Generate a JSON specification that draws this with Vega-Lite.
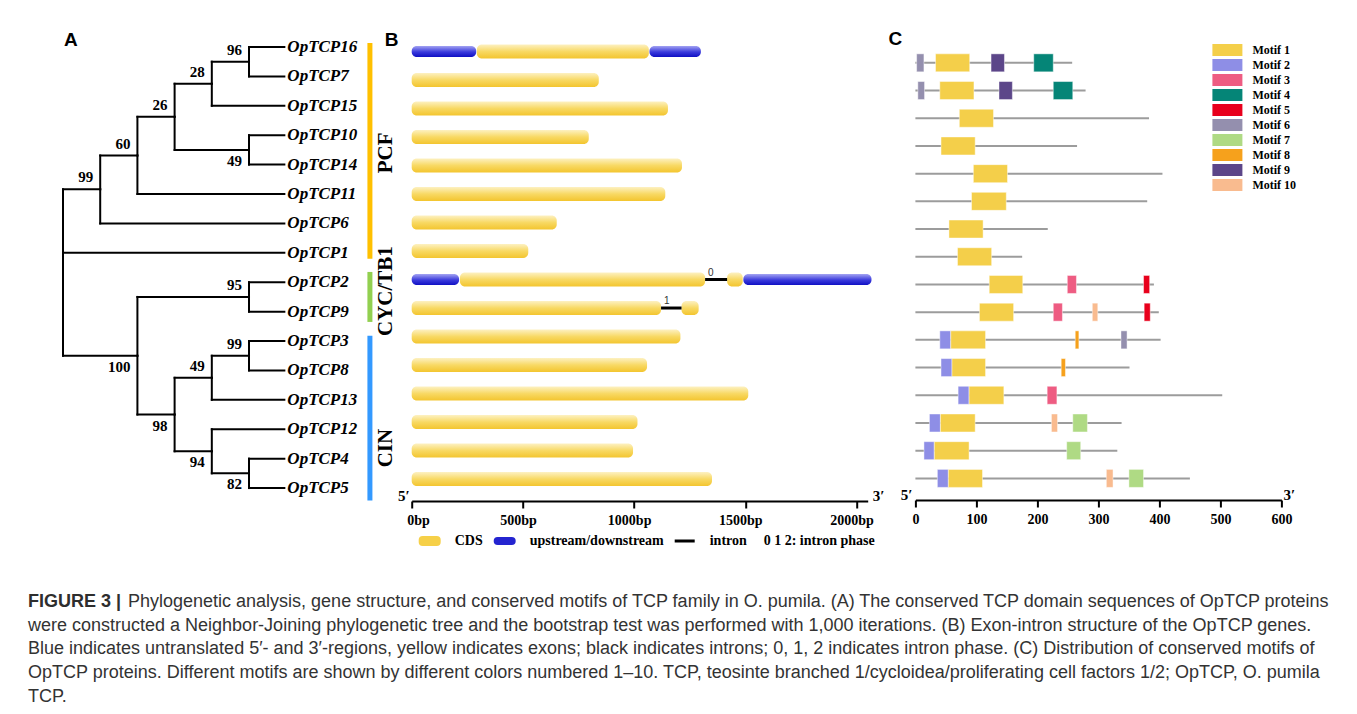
{
  "$schema": "https://vega.github.io/schema/vega-lite/v6.json",
  "background": "white",
  "padding": {"left": 28, "top": 30, "right": 10, "bottom": 4},
  "autosize": {"type": "pad"},
  "bounds": "flush",
  "columns": 3,
  "align": "none",
  "spacing": {"row": 80, "column": 47.7},
  "resolve": {"scale": {"color": "independent", "shape": "independent"}, "legend": {"color": "independent", "shape": "independent"}},
  "config": {
    "aria": false,
    "view": {"stroke": null},
    "font": "Liberation Serif",
    "title": {"font": "Liberation Sans", "fontWeight": "bold", "fontSize": 19, "color": "black", "anchor": "start", "frame": "group", "baseline": "alphabetic"},
    "axis": {"domainColor": "black", "domainWidth": 2, "tickColor": "black", "tickWidth": 2, "tickSize": 7, "labelFont": "Liberation Serif", "labelFontWeight": "bold", "labelFontSize": 14, "labelColor": "black", "labelPadding": 5, "grid": false, "title": null}
  },
  "datasets": {
    "edges": [
      {"px": 0, "py": 8.67, "cx": 1, "cy": 5.84},
      {"px": 0, "py": 8.67, "cx": 5.95, "cy": 8},
      {"px": 0, "py": 8.67, "cx": 2, "cy": 11.5},
      {"px": 1, "py": 5.84, "cx": 2, "cy": 4.69},
      {"px": 1, "py": 5.84, "cx": 5.95, "cy": 7},
      {"px": 2, "py": 4.69, "cx": 3, "cy": 3.375},
      {"px": 2, "py": 4.69, "cx": 5.95, "cy": 6},
      {"px": 3, "py": 3.375, "cx": 4, "cy": 2.25},
      {"px": 3, "py": 3.375, "cx": 5, "cy": 4.5},
      {"px": 4, "py": 2.25, "cx": 5, "cy": 1.5},
      {"px": 4, "py": 2.25, "cx": 5.95, "cy": 3},
      {"px": 5, "py": 1.5, "cx": 5.95, "cy": 1},
      {"px": 5, "py": 1.5, "cx": 5.95, "cy": 2},
      {"px": 5, "py": 4.5, "cx": 5.95, "cy": 4},
      {"px": 5, "py": 4.5, "cx": 5.95, "cy": 5},
      {"px": 2, "py": 11.5, "cx": 5, "cy": 9.5},
      {"px": 2, "py": 11.5, "cx": 3, "cy": 13.5},
      {"px": 5, "py": 9.5, "cx": 5.95, "cy": 9},
      {"px": 5, "py": 9.5, "cx": 5.95, "cy": 10},
      {"px": 3, "py": 13.5, "cx": 4, "cy": 12.25},
      {"px": 3, "py": 13.5, "cx": 4, "cy": 14.75},
      {"px": 4, "py": 12.25, "cx": 5, "cy": 11.5},
      {"px": 4, "py": 12.25, "cx": 5.95, "cy": 13},
      {"px": 5, "py": 11.5, "cx": 5.95, "cy": 11},
      {"px": 5, "py": 11.5, "cx": 5.95, "cy": 12},
      {"px": 4, "py": 14.75, "cx": 5.95, "cy": 14},
      {"px": 4, "py": 14.75, "cx": 5, "cy": 15.5},
      {"px": 5, "py": 15.5, "cx": 5.95, "cy": 15},
      {"px": 5, "py": 15.5, "cx": 5.95, "cy": 16}
    ],
    "leaves": [
      {"gene": "OpTCP16", "row": 1, "depth": 5.95}, {"gene": "OpTCP7", "row": 2, "depth": 5.95}, {"gene": "OpTCP15", "row": 3, "depth": 5.95},
      {"gene": "OpTCP10", "row": 4, "depth": 5.95}, {"gene": "OpTCP14", "row": 5, "depth": 5.95}, {"gene": "OpTCP11", "row": 6, "depth": 5.95},
      {"gene": "OpTCP6", "row": 7, "depth": 5.95}, {"gene": "OpTCP1", "row": 8, "depth": 5.95}, {"gene": "OpTCP2", "row": 9, "depth": 5.95},
      {"gene": "OpTCP9", "row": 10, "depth": 5.95}, {"gene": "OpTCP3", "row": 11, "depth": 5.95}, {"gene": "OpTCP8", "row": 12, "depth": 5.95},
      {"gene": "OpTCP13", "row": 13, "depth": 5.95}, {"gene": "OpTCP12", "row": 14, "depth": 5.95}, {"gene": "OpTCP4", "row": 15, "depth": 5.95},
      {"gene": "OpTCP5", "row": 16, "depth": 5.95}
    ],
    "support": [
      {"label": "96", "x": 5, "y": 1.5, "side": "above"},
      {"label": "28", "x": 4, "y": 2.25, "side": "above"},
      {"label": "26", "x": 3, "y": 3.375, "side": "above"},
      {"label": "60", "x": 2, "y": 4.69, "side": "above"},
      {"label": "99", "x": 1, "y": 5.84, "side": "above"},
      {"label": "49", "x": 5, "y": 4.5, "side": "below"},
      {"label": "100", "x": 2, "y": 11.5, "side": "below"},
      {"label": "95", "x": 5, "y": 9.5, "side": "above"},
      {"label": "98", "x": 3, "y": 13.5, "side": "below"},
      {"label": "49", "x": 4, "y": 12.25, "side": "above"},
      {"label": "99", "x": 5, "y": 11.5, "side": "above"},
      {"label": "94", "x": 4, "y": 14.75, "side": "below"},
      {"label": "82", "x": 5, "y": 15.5, "side": "below"}
    ],
    "clades": [
      {"clade": "PCF", "start": 0.86, "end": 8.2, "center": 4.6, "bar": 8.25, "labelx": 8.683},
      {"clade": "CYC/TB1", "start": 8.65, "end": 10.35, "center": 9.3, "bar": 8.25, "labelx": 8.683},
      {"clade": "CIN", "start": 10.82, "end": 16.42, "center": 14.64, "bar": 8.25, "labelx": 8.683}
    ],
    "parts": [
      {"gene": "OpTCP16", "row": 1, "part": "UTR", "start": 0, "end": 290},
      {"gene": "OpTCP16", "row": 1, "part": "CDS", "start": 293, "end": 1066},
      {"gene": "OpTCP16", "row": 1, "part": "UTR", "start": 1069, "end": 1300},
      {"gene": "OpTCP7", "row": 2, "part": "CDS", "start": 0, "end": 841},
      {"gene": "OpTCP15", "row": 3, "part": "CDS", "start": 0, "end": 1152},
      {"gene": "OpTCP10", "row": 4, "part": "CDS", "start": 0, "end": 796},
      {"gene": "OpTCP14", "row": 5, "part": "CDS", "start": 0, "end": 1215},
      {"gene": "OpTCP11", "row": 6, "part": "CDS", "start": 0, "end": 1140},
      {"gene": "OpTCP6", "row": 7, "part": "CDS", "start": 0, "end": 652},
      {"gene": "OpTCP1", "row": 8, "part": "CDS", "start": 0, "end": 524},
      {"gene": "OpTCP2", "row": 9, "part": "UTR", "start": 0, "end": 213},
      {"gene": "OpTCP2", "row": 9, "part": "CDS", "start": 217, "end": 1319},
      {"gene": "OpTCP2", "row": 9, "part": "intron", "start": 1319, "end": 1418},
      {"gene": "OpTCP2", "row": 9, "part": "CDS", "start": 1418, "end": 1488},
      {"gene": "OpTCP2", "row": 9, "part": "UTR", "start": 1491, "end": 2067},
      {"gene": "OpTCP9", "row": 10, "part": "CDS", "start": 0, "end": 1121},
      {"gene": "OpTCP9", "row": 10, "part": "intron", "start": 1121, "end": 1213},
      {"gene": "OpTCP9", "row": 10, "part": "CDS", "start": 1213, "end": 1290},
      {"gene": "OpTCP3", "row": 11, "part": "CDS", "start": 0, "end": 1208},
      {"gene": "OpTCP8", "row": 12, "part": "CDS", "start": 0, "end": 1058},
      {"gene": "OpTCP13", "row": 13, "part": "CDS", "start": 0, "end": 1513},
      {"gene": "OpTCP12", "row": 14, "part": "CDS", "start": 0, "end": 1015},
      {"gene": "OpTCP4", "row": 15, "part": "CDS", "start": 0, "end": 995},
      {"gene": "OpTCP5", "row": 16, "part": "CDS", "start": 0, "end": 1350}
    ],
    "phases": [
      {"gene": "OpTCP2", "row": 9, "pos": 1319, "phase": "0"},
      {"gene": "OpTCP9", "row": 10, "pos": 1121, "phase": "1"}
    ],
    "b_ends": [{"label": "5′", "bp": 0, "row": 16.593}],
    "b_ends3": [{"label": "3′", "bp": 2050, "row": 16.593}],
    "c_ends": [{"label": "5′", "aa": 0, "row": 16.6}],
    "c_ends3": [{"label": "3′", "aa": 600, "row": 16.6}],
    "b_legend": [
      {"item": "CDS"}, {"item": "upstream/downstream"}, {"item": "intron"}, {"item": "0 1 2: intron phase"}
    ],
    "proteins": [
      {"gene": "OpTCP16", "row": 1, "start": 0, "length": 257}, {"gene": "OpTCP7", "row": 2, "start": 0, "length": 279},
      {"gene": "OpTCP15", "row": 3, "start": 0, "length": 383}, {"gene": "OpTCP10", "row": 4, "start": 0, "length": 265},
      {"gene": "OpTCP14", "row": 5, "start": 0, "length": 405}, {"gene": "OpTCP11", "row": 6, "start": 0, "length": 380},
      {"gene": "OpTCP6", "row": 7, "start": 0, "length": 217}, {"gene": "OpTCP1", "row": 8, "start": 0, "length": 175},
      {"gene": "OpTCP2", "row": 9, "start": 0, "length": 391}, {"gene": "OpTCP9", "row": 10, "start": 0, "length": 399},
      {"gene": "OpTCP3", "row": 11, "start": 0, "length": 402}, {"gene": "OpTCP8", "row": 12, "start": 0, "length": 351},
      {"gene": "OpTCP13", "row": 13, "start": 0, "length": 503}, {"gene": "OpTCP12", "row": 14, "start": 0, "length": 338},
      {"gene": "OpTCP4", "row": 15, "start": 0, "length": 331}, {"gene": "OpTCP5", "row": 16, "start": 0, "length": 450}
    ],
    "motifs": [
      {"row": 1, "motif": "Motif 6", "start": 2, "end": 14},
      {"row": 1, "motif": "Motif 1", "start": 33, "end": 89},
      {"row": 1, "motif": "Motif 9", "start": 124, "end": 146},
      {"row": 1, "motif": "Motif 4", "start": 194, "end": 226},
      {"row": 2, "motif": "Motif 6", "start": 4, "end": 15},
      {"row": 2, "motif": "Motif 1", "start": 40, "end": 96},
      {"row": 2, "motif": "Motif 9", "start": 137, "end": 159},
      {"row": 2, "motif": "Motif 4", "start": 226, "end": 258},
      {"row": 3, "motif": "Motif 1", "start": 72, "end": 128},
      {"row": 4, "motif": "Motif 1", "start": 42, "end": 98},
      {"row": 5, "motif": "Motif 1", "start": 95, "end": 151},
      {"row": 6, "motif": "Motif 1", "start": 92, "end": 149},
      {"row": 7, "motif": "Motif 1", "start": 55, "end": 111},
      {"row": 8, "motif": "Motif 1", "start": 69, "end": 125},
      {"row": 9, "motif": "Motif 1", "start": 121, "end": 176},
      {"row": 9, "motif": "Motif 3", "start": 249, "end": 264},
      {"row": 9, "motif": "Motif 5", "start": 374, "end": 384},
      {"row": 10, "motif": "Motif 1", "start": 105, "end": 161},
      {"row": 10, "motif": "Motif 3", "start": 226, "end": 241},
      {"row": 10, "motif": "Motif 10", "start": 290, "end": 299},
      {"row": 10, "motif": "Motif 5", "start": 375, "end": 385},
      {"row": 11, "motif": "Motif 2", "start": 40, "end": 58},
      {"row": 11, "motif": "Motif 1", "start": 58, "end": 115},
      {"row": 11, "motif": "Motif 8", "start": 262, "end": 268},
      {"row": 11, "motif": "Motif 6", "start": 337, "end": 347},
      {"row": 12, "motif": "Motif 2", "start": 42, "end": 60},
      {"row": 12, "motif": "Motif 1", "start": 60, "end": 115},
      {"row": 12, "motif": "Motif 8", "start": 239, "end": 246},
      {"row": 13, "motif": "Motif 2", "start": 70, "end": 88},
      {"row": 13, "motif": "Motif 1", "start": 88, "end": 145},
      {"row": 13, "motif": "Motif 3", "start": 216, "end": 232},
      {"row": 14, "motif": "Motif 2", "start": 23, "end": 41},
      {"row": 14, "motif": "Motif 1", "start": 41, "end": 98},
      {"row": 14, "motif": "Motif 10", "start": 223, "end": 233},
      {"row": 14, "motif": "Motif 7", "start": 258, "end": 282},
      {"row": 15, "motif": "Motif 2", "start": 14, "end": 31},
      {"row": 15, "motif": "Motif 1", "start": 31, "end": 88},
      {"row": 15, "motif": "Motif 7", "start": 248, "end": 271},
      {"row": 16, "motif": "Motif 2", "start": 36, "end": 54},
      {"row": 16, "motif": "Motif 1", "start": 54, "end": 110},
      {"row": 16, "motif": "Motif 10", "start": 313, "end": 324},
      {"row": 16, "motif": "Motif 7", "start": 350, "end": 374}
    ],
    "caption_head": [{"line": 1, "pos": 0, "text": "FIGURE 3 |"}],
    "caption_lines": [
      {"line": 1, "pos": 0, "text": "Phylogenetic analysis, gene structure, and conserved motifs of TCP family in O. pumila. (A) The conserved TCP domain sequences of OpTCP proteins"},
      {"line": 2, "pos": 0, "text": "were constructed a Neighbor-Joining phylogenetic tree and the bootstrap test was performed with 1,000 iterations. (B) Exon-intron structure of the OpTCP genes."},
      {"line": 3, "pos": 0, "text": "Blue indicates untranslated 5′- and 3′-regions, yellow indicates exons; black indicates introns; 0, 1, 2 indicates intron phase. (C) Distribution of conserved motifs of"},
      {"line": 4, "pos": 0, "text": "OpTCP proteins. Different motifs are shown by different colors numbered 1–10. TCP, teosinte branched 1/cycloidea/proliferating cell factors 1/2; OpTCP, O. pumila"},
      {"line": 5, "pos": 0, "text": "TCP."}
    ]
  },
  "concat": [
    {
      "width": 336,
      "height": 450,
      "title": {"text": "A", "dx": 36, "offset": -12},
      "layer": [
        {
          "data": {"name": "edges"},
          "mark": {"type": "rule", "color": "black", "strokeWidth": 2, "strokeCap": "square"},
          "encoding": {
            "x": {"field": "px", "type": "quantitative", "scale": {"domain": [-0.941, 8.091], "nice": false, "zero": false}, "axis": null},
            "y": {"field": "py", "type": "quantitative", "scale": {"domain": [1.136, 16.44], "reverse": true, "nice": false, "zero": false}, "axis": null},
            "y2": {"field": "cy"}
          }
        },
        {
          "data": {"name": "edges"},
          "mark": {"type": "rule", "color": "black", "strokeWidth": 2, "strokeCap": "square"},
          "encoding": {
            "x": {"field": "px", "type": "quantitative"},
            "x2": {"field": "cx"},
            "y": {"field": "cy", "type": "quantitative"}
          }
        },
        {
          "data": {"name": "leaves"},
          "mark": {"type": "text", "align": "left", "baseline": "middle", "dx": 3, "font": "Liberation Serif", "fontStyle": "italic", "fontWeight": "bold", "fontSize": 17, "color": "black"},
          "encoding": {
            "x": {"field": "depth", "type": "quantitative"},
            "y": {"field": "row", "type": "quantitative"},
            "text": {"field": "gene"}
          }
        },
        {
          "data": {"name": "support"},
          "transform": [{"filter": "datum.side == 'above'"}],
          "mark": {"type": "text", "align": "right", "baseline": "alphabetic", "dx": -7, "dy": -7, "font": "Liberation Serif", "fontWeight": "bold", "fontSize": 15, "color": "black"},
          "encoding": {
            "x": {"field": "x", "type": "quantitative"},
            "y": {"field": "y", "type": "quantitative"},
            "text": {"field": "label"}
          }
        },
        {
          "data": {"name": "support"},
          "transform": [{"filter": "datum.side == 'below'"}],
          "mark": {"type": "text", "align": "right", "baseline": "alphabetic", "dx": -7, "dy": 16, "font": "Liberation Serif", "fontWeight": "bold", "fontSize": 15, "color": "black"},
          "encoding": {
            "x": {"field": "x", "type": "quantitative"},
            "y": {"field": "y", "type": "quantitative"},
            "text": {"field": "label"}
          }
        },
        {
          "data": {"name": "clades"},
          "mark": {"type": "rule", "strokeWidth": 5},
          "encoding": {
            "x": {"field": "bar", "type": "quantitative"},
            "y": {"field": "start", "type": "quantitative"},
            "y2": {"field": "end"},
            "color": {"field": "clade", "type": "nominal", "scale": {"domain": ["PCF", "CYC/TB1", "CIN"], "range": ["#FFC000", "#92D050", "#3399FF"]}, "legend": null}
          }
        },
        {
          "data": {"name": "clades"},
          "mark": {"type": "text", "angle": 270, "align": "center", "baseline": "middle", "font": "Liberation Serif", "fontWeight": "bold", "fontSize": 21, "color": "black"},
          "encoding": {
            "x": {"field": "labelx", "type": "quantitative"},
            "y": {"field": "center", "type": "quantitative"},
            "text": {"field": "clade"}
          }
        }
      ]
    },
    {
      "width": 456,
      "height": 450,
      "title": {"text": "B", "dx": -27, "offset": -5.5},
      "layer": [
        {
          "data": {"name": "parts"},
          "transform": [{"filter": "datum.part == 'UTR'"}],
          "mark": {"type": "bar", "orient": "horizontal", "size": 11, "cornerRadius": 5,
            "color": {"gradient": "linear", "x1": 0, "y1": 0, "x2": 0, "y2": 1, "stops": [{"offset": 0, "color": "#A4A4F2"}, {"offset": 0.55, "color": "#3A3ADC"}, {"offset": 1, "color": "#1010C4"}]}},
          "encoding": {
            "x": {"field": "start", "type": "quantitative", "scale": {"domain": [0, 2050], "nice": false, "zero": false},
              "axis": {"values": [0, 500, 1000, 1500, 2000], "labelExpr": "datum.value + 'bp'", "labelOffset": -5}},
            "x2": {"field": "end"},
            "y": {"field": "row", "type": "quantitative", "scale": {"domain": [1.161, 16.593], "reverse": true, "nice": false, "zero": false}, "axis": null}
          }
        },
        {
          "data": {"name": "parts"},
          "transform": [{"filter": "datum.part == 'CDS'"}],
          "mark": {"type": "bar", "orient": "horizontal", "size": 14, "cornerRadius": 5,
            "color": {"gradient": "linear", "x1": 0, "y1": 0, "x2": 0, "y2": 1, "stops": [{"offset": 0, "color": "#FDF1C2"}, {"offset": 0.5, "color": "#F8D964"}, {"offset": 1, "color": "#F3C52F"}]}},
          "encoding": {
            "x": {"field": "start", "type": "quantitative"},
            "x2": {"field": "end"},
            "y": {"field": "row", "type": "quantitative"}
          }
        },
        {
          "data": {"name": "parts"},
          "transform": [{"filter": "datum.part == 'intron'"}],
          "mark": {"type": "rule", "color": "black", "strokeWidth": 3},
          "encoding": {
            "x": {"field": "start", "type": "quantitative"},
            "x2": {"field": "end"},
            "y": {"field": "row", "type": "quantitative"}
          }
        },
        {
          "data": {"name": "phases"},
          "mark": {"type": "text", "align": "left", "baseline": "alphabetic", "dx": 3, "dy": -4, "font": "Liberation Sans", "fontSize": 10, "color": "#333333"},
          "encoding": {
            "x": {"field": "pos", "type": "quantitative"},
            "y": {"field": "row", "type": "quantitative"},
            "text": {"field": "phase"}
          }
        },
        {
          "data": {"name": "b_ends"},
          "mark": {"type": "text", "align": "right", "baseline": "middle", "dx": -2, "font": "Liberation Serif", "fontWeight": "bold", "fontSize": 15, "color": "black"},
          "encoding": {
            "x": {"field": "bp", "type": "quantitative"},
            "y": {"field": "row", "type": "quantitative"},
            "text": {"field": "label"}
          }
        },
        {
          "data": {"name": "b_ends3"},
          "mark": {"type": "text", "align": "left", "baseline": "middle", "dx": 5, "font": "Liberation Serif", "fontWeight": "bold", "fontSize": 15, "color": "black"},
          "encoding": {
            "x": {"field": "bp", "type": "quantitative"},
            "y": {"field": "row", "type": "quantitative"},
            "text": {"field": "label"}
          }
        },
        {
          "data": {"name": "b_legend"},
          "mark": {"type": "point", "filled": true, "opacity": 0},
          "encoding": {
            "color": {"field": "item", "type": "nominal",
              "scale": {"domain": ["CDS", "upstream/downstream", "intron", "0 1 2: intron phase"], "range": ["#F6D048", "#2424D0", "#000000", "transparent"]},
              "legend": {"orient": "none", "legendX": 11, "legendY": 483, "direction": "horizontal", "title": null, "symbolSize": 100, "symbolOpacity": 1, "symbolStrokeWidth": 0, "labelFont": "Liberation Serif", "labelFontWeight": "bold", "labelFontSize": 14, "labelColor": "black", "labelOffset": 18, "columnPadding": 10, "padding": 0, "labelLimit": 300,
                "encode": {"labels": {"update": {"dx": {"signal": "datum.value == '0 1 2: intron phase' ? -26 : 0"}}}}}},
            "shape": {"field": "item", "type": "nominal",
              "scale": {"domain": ["CDS", "upstream/downstream", "intron", "0 1 2: intron phase"], "range": [
                "M-1.4,-1H1.4Q2.2,-1 2.2,-0.2V0.2Q2.2,1 1.4,1H-1.4Q-2.2,1 -2.2,0.2V-0.2Q-2.2,-1 -1.4,-1Z",
                "M-1.4,-0.8H1.4Q2.2,-0.8 2.2,0Q2.2,0.8 1.4,0.8H-1.4Q-2.2,0.8 -2.2,0Q-2.2,-0.8 -1.4,-0.8Z",
                "M-2,-0.3H2V0.3H-2Z",
                "M-1,-1H1V1H-1Z"]},
              "legend": {"orient": "none", "legendX": 11, "legendY": 483, "direction": "horizontal", "title": null, "symbolSize": 100, "symbolOpacity": 1, "symbolStrokeWidth": 0, "labelFont": "Liberation Serif", "labelFontWeight": "bold", "labelFontSize": 14, "labelColor": "black", "labelOffset": 18, "columnPadding": 10, "padding": 0, "labelLimit": 300,
                "encode": {"labels": {"update": {"dx": {"signal": "datum.value == '0 1 2: intron phase' ? -26 : 0"}}}}}}
          }
        }
      ]
    },
    {
      "width": 366,
      "height": 449,
      "title": {"text": "C", "dx": -27, "offset": -5},
      "layer": [
        {
          "data": {"name": "proteins"},
          "mark": {"type": "rule", "color": "#9C9C9C", "strokeWidth": 2},
          "encoding": {
            "x": {"field": "start", "type": "quantitative", "scale": {"domain": [0, 600], "nice": false, "zero": false},
              "axis": {"values": [0, 100, 200, 300, 400, 500, 600], "labelFlush": false}},
            "x2": {"field": "length"},
            "y": {"field": "row", "type": "quantitative", "scale": {"domain": [0.753, 16.6], "reverse": true, "nice": false, "zero": false}, "axis": null}
          }
        },
        {
          "data": {"name": "motifs"},
          "mark": {"type": "bar", "orient": "horizontal", "size": 18, "stroke": "white", "strokeWidth": 1, "strokeOpacity": 0.45},
          "encoding": {
            "x": {"field": "start", "type": "quantitative"},
            "x2": {"field": "end"},
            "y": {"field": "row", "type": "quantitative"},
            "color": {"field": "motif", "type": "nominal",
              "scale": {"domain": ["Motif 1", "Motif 2", "Motif 3", "Motif 4", "Motif 5", "Motif 6", "Motif 7", "Motif 8", "Motif 9", "Motif 10"],
                "range": ["#F4CF4A", "#8E8EE6", "#EE5C82", "#058577", "#E8001C", "#948FAE", "#AFDA84", "#F6A11C", "#5C4689", "#F9BB8F"]},
              "legend": {"orient": "none", "legendX": 306, "legendY": -7, "title": null, "symbolType": "M-2.5,-1H2.5V1H-2.5Z", "symbolSize": 144, "symbolStrokeWidth": 0, "labelFont": "Liberation Serif", "labelFontWeight": "bold", "labelFontSize": 12, "labelColor": "black", "labelOffset": 19, "rowPadding": 3, "padding": 0}}
          }
        },
        {
          "data": {"name": "c_ends"},
          "mark": {"type": "text", "align": "right", "baseline": "middle", "dx": -3, "font": "Liberation Serif", "fontWeight": "bold", "fontSize": 15, "color": "black"},
          "encoding": {
            "x": {"field": "aa", "type": "quantitative"},
            "y": {"field": "row", "type": "quantitative"},
            "text": {"field": "label"}
          }
        },
        {
          "data": {"name": "c_ends3"},
          "mark": {"type": "text", "align": "left", "baseline": "middle", "dx": 2, "font": "Liberation Serif", "fontWeight": "bold", "fontSize": 15, "color": "black"},
          "encoding": {
            "x": {"field": "aa", "type": "quantitative"},
            "y": {"field": "row", "type": "quantitative"},
            "text": {"field": "label"}
          }
        }
      ]
    },
    {
      "width": 336,
      "height": 130,
      "layer": [
        {
          "data": {"name": "caption_head"},
          "mark": {"type": "text", "align": "left", "baseline": "middle", "font": "Liberation Sans", "fontWeight": "bold", "fontSize": 18, "color": "#2E2E2E"},
          "encoding": {
            "x": {"field": "pos", "type": "quantitative", "scale": {"domain": [0, 1], "nice": false, "zero": false}, "axis": null},
            "y": {"field": "line", "type": "quantitative", "scale": {"domain": [0.114, 5.599], "reverse": true, "nice": false, "zero": false}, "axis": null},
            "text": {"field": "text"}
          }
        },
        {
          "data": {"name": "caption_lines"},
          "transform": [{"filter": "datum.line == 1"}],
          "mark": {"type": "text", "align": "left", "baseline": "middle", "dx": 100, "font": "Liberation Sans", "fontSize": 18, "color": "#333333"},
          "encoding": {
            "x": {"field": "pos", "type": "quantitative"},
            "y": {"field": "line", "type": "quantitative"},
            "text": {"field": "text"}
          }
        },
        {
          "data": {"name": "caption_lines"},
          "transform": [{"filter": "datum.line > 1"}],
          "mark": {"type": "text", "align": "left", "baseline": "middle", "font": "Liberation Sans", "fontSize": 18, "color": "#333333"},
          "encoding": {
            "x": {"field": "pos", "type": "quantitative"},
            "y": {"field": "line", "type": "quantitative"},
            "text": {"field": "text"}
          }
        }
      ]
    }
  ]
}
